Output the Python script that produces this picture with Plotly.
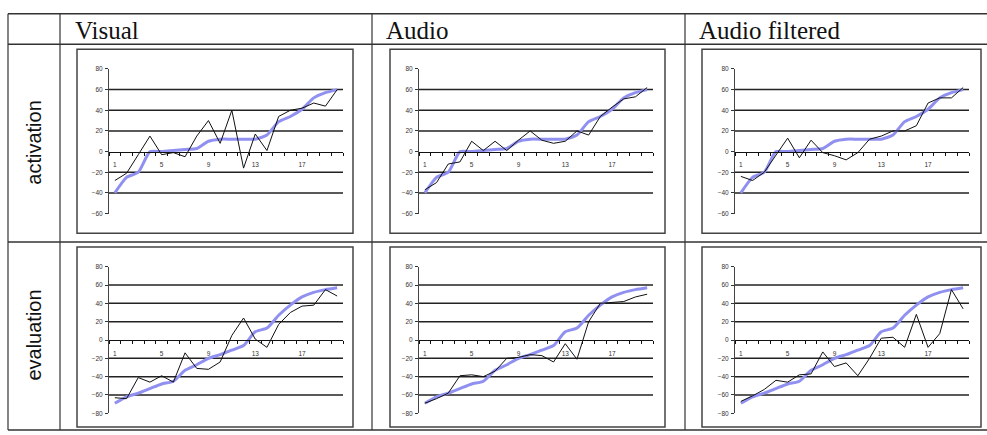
import plotly.graph_objects as go

W, H = 987, 435

# ---------------- data ----------------
points = list(range(1, 21))
x_tick_vals = [1, 5, 9, 13, 17]
x_tick_text = ["1", "5", "9", "13", "17"]

column_titles = ["Visual", "Audio", "Audio filtered"]
row_titles = ["activation", "evaluation"]

activation_target = [-40, -25, -20, 0, 0, 1, 2, 3, 10, 12, 12, 12, 12, 16, 29, 34, 41, 52, 57, 60]
evaluation_target = [-69, -62, -58, -53, -48, -45, -33, -27, -20, -16, -11, -6, 9, 13, 27, 38, 47, 52, 55, 57]

visual_activation = [-28, -21, -3, 15, -3, -1, -5, 15, 30, 8, 40, -16, 17, 1, 34, 40, 42, 47, 44, 60]
audio_activation = [-37, -30, -12, -10, 10, 1, 10, 1, 11, 20, 11, 8, 10, 20, 16, 34, 43, 51, 53, 62]
audio_filtered_activation = [-24, -28, -20, -3, 13, -6, 11, -1, -4, -8, -1, 12, 15, 20, 20, 25, 47, 52, 52, 62]

visual_evaluation = [-63, -64, -41, -46, -39, -46, -14, -31, -32, -24, 5, 24, 1, -8, 17, 30, 37, 38, 55, 48]
audio_evaluation = [-69, -64, -58, -39, -38, -40, -34, -20, -19, -16, -17, -24, -4, -21, 20, 40, 41, 42, 47, 50]
audio_filtered_evaluation = [-67, -61, -54, -44, -46, -38, -37, -13, -29, -25, -39, -20, 2, 3, -8, 28, -8, 7, 55, 34]

activation_range = [-60, 80]
evaluation_range = [-80, 80]
activation_grid = [-40, -20, 20, 40, 60]
evaluation_grid = [-60, -40, -20, 20, 40, 60]

targets = [activation_target, evaluation_target]
predictions = [
    [visual_activation, audio_activation, audio_filtered_activation],
    [visual_evaluation, audio_evaluation, audio_filtered_evaluation],
]
ranges = [activation_range, evaluation_range]
grids = [activation_grid, evaluation_grid]

# ---------------- layout (pixels) ----------------
def px(x):
    return x / W


def py(y):
    return 1 - y / H


col_plot_x = [(109, 343), (419, 653), (735, 969)]
row_plot_y = [(66, 213), (267, 416)]
col_box_x = [(77, 353), (390, 665), (702, 981)]
row_box_y = [(46, 233), (247, 430)]

TARGET_COLOR = "#9090f0"
PRED_COLOR = "#111111"
GRID_COLOR = "#222222"
TICK_COLOR = "#333333"

fig = go.Figure()
shapes = []
annotations = []
layout_axes = {}

for r in range(2):
    lo, hi = ranges[r]
    y_top, y_bot = row_plot_y[r]
    yd = [py(y_bot), py(y_top)]
    for c in range(3):
        k = r * 3 + c + 1
        xa = "x" if k == 1 else f"x{k}"
        ya = "y" if k == 1 else f"y{k}"
        x0, x1 = col_plot_x[c]
        xd = [px(x0), px(x1)]
        zero_pos = yd[0] + (0 - lo) / (hi - lo) * (yd[1] - yd[0])

        fig.add_trace(go.Scatter(
            x=points, y=targets[r], xaxis=xa, yaxis=ya, mode="lines",
            line=dict(color=TARGET_COLOR, width=3, shape="spline", smoothing=0.6),
            hoverinfo="skip"))
        fig.add_trace(go.Scatter(
            x=points, y=predictions[r][c], xaxis=xa, yaxis=ya, mode="lines",
            line=dict(color=PRED_COLOR, width=1), hoverinfo="skip"))

        xname = "xaxis" if k == 1 else f"xaxis{k}"
        yname = "yaxis" if k == 1 else f"yaxis{k}"
        layout_axes[xname] = dict(
            domain=xd, anchor="free", position=zero_pos,
            range=[0.5, 20.5], tickvals=x_tick_vals, ticktext=x_tick_text,
            ticks="", showgrid=False, zeroline=False,
            showline=True, linecolor="#111111", linewidth=1,
            tickfont=dict(family="Liberation Sans", size=6.5, color=TICK_COLOR),
            ticklabelstandoff=7,
            minor=dict(tickvals=[p - 0.5 for p in points] + [points[-1] + 0.5],
                       ticks="outside", ticklen=3, tickcolor="#111111", showgrid=False),
            fixedrange=True,
        )
        layout_axes[yname] = dict(
            domain=yd, anchor=xa, range=ranges[r], dtick=20, tick0=0,
            ticks="outside", ticklen=3, tickcolor=TICK_COLOR,
            showgrid=False, zeroline=False,
            showline=True, linecolor="#444444", linewidth=1,
            tickfont=dict(family="Liberation Sans", size=6.5, color=TICK_COLOR),
            ticklabelstandoff=1,
            fixedrange=True,
        )

        for g in grids[r]:
            shapes.append(dict(type="line", xref=f"{xa} domain", yref=ya,
                               x0=0, x1=1, y0=g, y1=g,
                               line=dict(color=GRID_COLOR, width=1.5), layer="below"))

        bx0, bx1 = col_box_x[c]
        by0, by1 = row_box_y[r]
        shapes.append(dict(type="rect", xref="paper", yref="paper",
                           x0=px(bx0), x1=px(bx1), y0=py(by1), y1=py(by0),
                           line=dict(color="#444444", width=1.5), layer="below"))

# table lines
table_color = "#333333"
for yline in [10, 41, 242, 433]:
    shapes.append(dict(type="line", xref="paper", yref="paper",
                       x0=px(8), x1=1, y0=py(yline), y1=py(yline),
                       line=dict(color=table_color, width=1.5)))
for xline in [8, 60, 372, 685]:
    shapes.append(dict(type="line", xref="paper", yref="paper",
                       x0=px(xline), x1=px(xline), y0=py(433), y1=py(10),
                       line=dict(color=table_color, width=1.2)))

# headers
header_x = [73, 384, 697]
for t, hx in zip(column_titles, header_x):
    annotations.append(dict(text=t, xref="paper", yref="paper", x=px(hx), y=py(27),
                            xanchor="left", yanchor="middle", showarrow=False,
                            font=dict(family="Liberation Serif", size=25, color="#111111")))
row_label_y = [141, 337]
for t, ry in zip(row_titles, row_label_y):
    annotations.append(dict(text=t, xref="paper", yref="paper", x=px(34), y=py(ry),
                            xanchor="center", yanchor="middle", showarrow=False,
                            textangle=-90,
                            font=dict(family="Liberation Sans", size=20, color="#111111")))

fig.update_layout(
    width=W, height=H, autosize=False,
    margin=dict(l=0, r=0, t=0, b=0),
    paper_bgcolor="white", plot_bgcolor="white",
    showlegend=False,
    shapes=shapes, annotations=annotations,
    **layout_axes,
)

fig.write_html(
    "out.html",
    config={"displayModeBar": False},
    post_script="document.body.style.margin='0';document.body.style.overflow='hidden';",
)
